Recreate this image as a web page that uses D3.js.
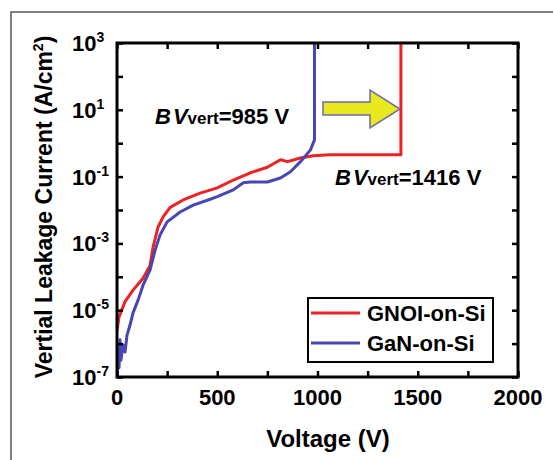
<!DOCTYPE html>
<html><head><meta charset="utf-8">
<script src="https://cdn.jsdelivr.net/npm/d3@7"></script>
<style>body{margin:0;background:#fff}svg{display:block;font-family:"Liberation Sans",Arial,sans-serif;font-weight:bold}</style>
</head><body>
<script>
const gnoiV = [0,10,40,80,130,165,180,205,230,265,330,415,500,580,665,750,815,850,915,980,1060,1416,1416];
const gnoiJ = [2.5e-6,6.3e-6,1.8e-5,4.0e-5,9.1e-5,2.2e-4,7.8e-4,3.1e-3,6.2e-3,1.2e-2,2.0e-2,3.2e-2,4.6e-2,7.9e-2,0.13,0.19,0.32,0.28,0.36,0.42,0.45,0.45,1000];
const ganV = [0,5,10,15,20,30,40,50,65,80,105,130,165,190,215,250,315,380,465,500,580,630,665,750,815,865,915,965,985,985];
const ganJ = [1e-7,6.5e-7,1.9e-7,1.3e-6,3.2e-7,9.1e-7,5.6e-7,1.8e-6,3.6e-6,8.3e-6,2.0e-5,5.6e-5,1.6e-4,6.3e-4,1.8e-3,4.4e-3,8.7e-3,1.4e-2,2.1e-2,2.5e-2,4.0e-2,6.5e-2,6.9e-2,6.9e-2,9.1e-2,0.14,0.28,0.63,1.26,1000];
const xTickLabels = [0,500,1000,1500,2000];
const xMinorTicks = [0,250,500,750,1000,1250,1500,1750,2000];
const yTickLabels = [3,1,-1,-3,-5,-7];
const yTicks = [1e3,1e2,1e1,1,1e-1,1e-2,1e-3,1e-4,1e-5,1e-6,1e-7];
const seriesNames = ["GNOI-on-Si","GaN-on-Si"];
const colors = ["#ee2222","#4646b4"];

const W=553,H=460;
const L=117,R=518,T=43,B=377;
const svg=d3.select("body").append("svg").attr("width",W).attr("height",H);
// outer photo frame
svg.append("path").attr("d",`M11,${H} L11,12 L${W},12`).attr("fill","none").attr("stroke","#555").attr("stroke-width",1.5);

const x=d3.scaleLinear().domain([0,2000]).range([L,R]);
const y=d3.scaleLog().domain([1e-7,1e3]).range([B,T]);

const clip=svg.append("clipPath").attr("id","c").append("rect").attr("x",L).attr("y",T).attr("width",R-L).attr("height",B-T);
const line=d3.line().x(d=>x(d[0])).y(d=>y(d[1]));
const data=[d3.zip(gnoiV,gnoiJ), d3.zip(ganV,ganJ)];
svg.append("g").attr("clip-path","url(#c)").selectAll("path").data(data).join("path")
  .attr("d",line).attr("fill","none").attr("stroke",(d,i)=>colors[i]).attr("stroke-width",3).attr("stroke-linejoin","round");

// axes
const tl=6;
const gx=svg.append("g").attr("transform",`translate(0,${B})`).call(d3.axisBottom(x).tickValues(xMinorTicks).tickSizeInner(-tl).tickSizeOuter(0).tickFormat(""));
const gxt=svg.append("g").attr("transform",`translate(0,${T})`).call(d3.axisTop(x).tickValues(xMinorTicks).tickSizeInner(-tl).tickSizeOuter(0).tickFormat(""));
const gy=svg.append("g").attr("transform",`translate(${L},0)`).call(d3.axisLeft(y).tickValues(yTicks).tickSizeInner(-tl).tickSizeOuter(0).tickFormat(""));
const gyr=svg.append("g").attr("transform",`translate(${R},0)`).call(d3.axisRight(y).tickValues(yTicks).tickSizeInner(-tl).tickSizeOuter(0).tickFormat(""));
[gx,gxt,gy,gyr].forEach(g=>{g.select(".domain").remove();g.selectAll("line").attr("stroke","#000").attr("stroke-width",2.5);});
svg.append("rect").attr("x",L).attr("y",T).attr("width",R-L).attr("height",B-T).attr("fill","none").attr("stroke","#000").attr("stroke-width",3);

// x tick labels
svg.append("g").selectAll("text").data(xTickLabels).join("text")
  .attr("x",d=>x(d)).attr("y",405).attr("text-anchor","middle").attr("font-size",22).text(d=>d);
// y tick labels
const yl=svg.append("g").selectAll("text").data(yTickLabels).join("text")
  .attr("x",72).attr("y",d=>y(Math.pow(10,d))+8).attr("font-size",22);
yl.append("tspan").text("10");
yl.append("tspan").attr("font-size",14).attr("dy",-9).text(d=>d);

// axis titles
svg.append("text").attr("x",328).attr("y",447).attr("text-anchor","middle").attr("font-size",24).text("Voltage (V)");
const yt=svg.append("text").attr("transform","translate(52,207) rotate(-90)").attr("text-anchor","middle").attr("font-size",23);
yt.append("tspan").text("Vertial Leakage Current (A/cm");
yt.append("tspan").attr("font-size",14).attr("dy",-9).text("2");
yt.append("tspan").attr("dy",9).text(")");

// annotations
function bv(xp,yp,val){
  const t=svg.append("text").attr("x",xp).attr("y",yp).attr("font-size",22);
  t.append("tspan").attr("font-style","italic").attr("letter-spacing",2).text("B");
  t.append("tspan").attr("font-style","italic").text("V");
  t.append("tspan").attr("font-size",17).text("vert");
  t.append("tspan").text("="+val+" V");
}
bv(155,124,985);
bv(335,185,1416);

// arrow
svg.append("polygon").attr("points","323,102 370,102 370,90 400,109 370,128 370,115 323,115")
  .attr("fill","#e8e81c").attr("stroke","#6b6bb0").attr("stroke-width",1.5);

// legend
svg.append("rect").attr("x",308).attr("y",298).attr("width",185).attr("height",64).attr("fill","#fff").attr("stroke","#000").attr("stroke-width",2);
const lg=svg.append("g").selectAll("g").data(seriesNames).join("g").attr("transform",(d,i)=>`translate(0,${313+i*30})`);
lg.append("line").attr("x1",311).attr("x2",360).attr("stroke",(d,i)=>colors[i]).attr("stroke-width",3);
lg.append("text").attr("x",367).attr("y",8).attr("font-size",22).text(d=>d);
</script>
</body></html>
